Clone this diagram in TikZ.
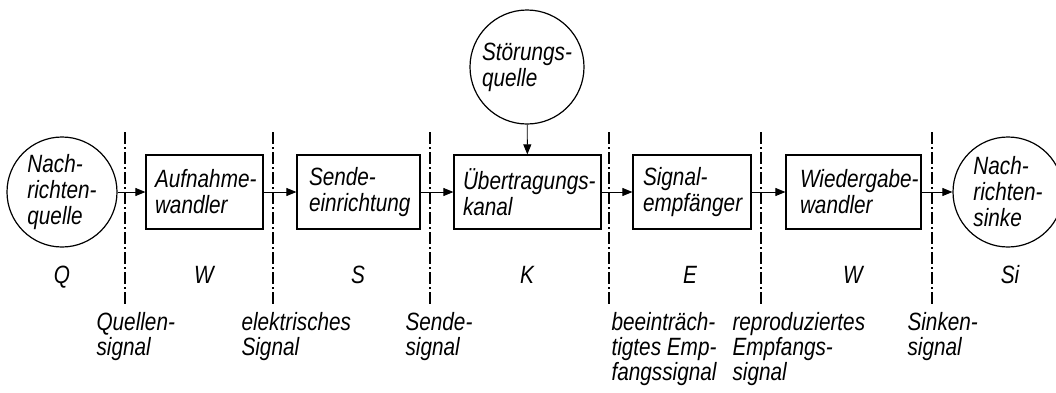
\documentclass[tikz,border=0pt]{standalone}
\usepackage{fontspec}
\setmainfont{Liberation Sans}[FakeStretch=0.83]
\usetikzlibrary{arrows.meta}
\begin{document}
\begin{tikzpicture}[x=1pt,y=-1pt,
  every node/.style={font=\fontsize{25}{26}\selectfont\itshape},
  block/.style={draw,line width=1.2pt,minimum height=74pt,inner ysep=0pt,align=left},
  roundnode/.style={draw,circle,line width=1.2pt,minimum size=110pt,inner sep=0pt,align=left},
  flow/.style={line width=0.9pt,-{Triangle[length=10pt,width=8pt]}},
  border/.style={line width=1.1pt,dash pattern=on 12pt off 3pt on 2pt off 3pt},
  sym/.style={anchor=base},
  sig/.style={anchor=north west,align=left,font=\fontsize{25}{25}\selectfont\itshape}
]
\useasboundingbox (0,0) rectangle (1056,392);

% sources, sinks and interference
\node[roundnode] (Q)  at (62,192)   {Nach-\\richten-\\quelle};
\node[roundnode] (Si) at (1008,192) {Nach-\\richten-\\sinke};
\node[roundnode,minimum size=114pt] (St) at (527,67) {Störungs-\\quelle};

% processing blocks (lines kept unbroken, left inset set per block)
\node[block,inner xsep=9pt,text width=99pt]   (A) at (204.5,192) {\mbox{Aufnahme-}\\\mbox{wandler}};
\node[block,inner xsep=12pt,text width=99pt]  (S) at (358.5,192) {\mbox{Sende-}\\\mbox{einrichtung}};
\node[block,inner xsep=9pt,text width=129pt]  (K) at (527.5,192) {\mbox{Übertragungs-}\\\mbox{kanal}};
\node[block,inner xsep=10pt,text width=98pt]  (E) at (692,192)   {\mbox{Signal-}\\\mbox{empfänger}};
\node[block,inner xsep=14pt,text width=107pt] (W) at (853.5,192) {\mbox{Wiedergabe-}\\\mbox{wandler}};

% signal flow
\draw[flow] (Q) -- (A);
\draw[flow] (A) -- (S);
\draw[flow] (S) -- (K);
\draw[flow] (K) -- (E);
\draw[flow] (E) -- (W);
\draw[flow] (W) -- (Si);
\draw[flow] (St) -- (K);

% interface borders
\foreach \i/\x in {1/125,2/273,3/430,4/609,5/761,6/932}{
  \coordinate (b\i t) at (\x,132);
  \coordinate (b\i b) at (\x,305);
  \draw[border] (b\i t) -- (b\i b);
}

% stage symbols
\node[sym] (lQ)  at (62,283)   {Q};
\node[sym] (lW1) at (204,283)  {W};
\node[sym] (lS)  at (358,283)  {S};
\node[sym] (lK)  at (527,283)  {K};
\node[sym] (lE)  at (690,283)  {E};
\node[sym] (lW2) at (853,283)  {W};
\node[sym] (lSi) at (1010,283) {Si};

% signal names
\node[sig] (s1) at (93,309)  {Quellen-\\signal};
\node[sig] (s2) at (238,309) {elektrisches\\Signal};
\node[sig] (s3) at (402,309) {Sende-\\signal};
\node[sig] (s4) at (608,309) {beeinträch-\\tigtes Emp-\\fangssignal};
\node[sig] (s5) at (729,309) {reproduziertes\\Empfangs-\\signal};
\node[sig] (s6) at (904,309) {Sinken-\\signal};
\end{tikzpicture}
\end{document}
